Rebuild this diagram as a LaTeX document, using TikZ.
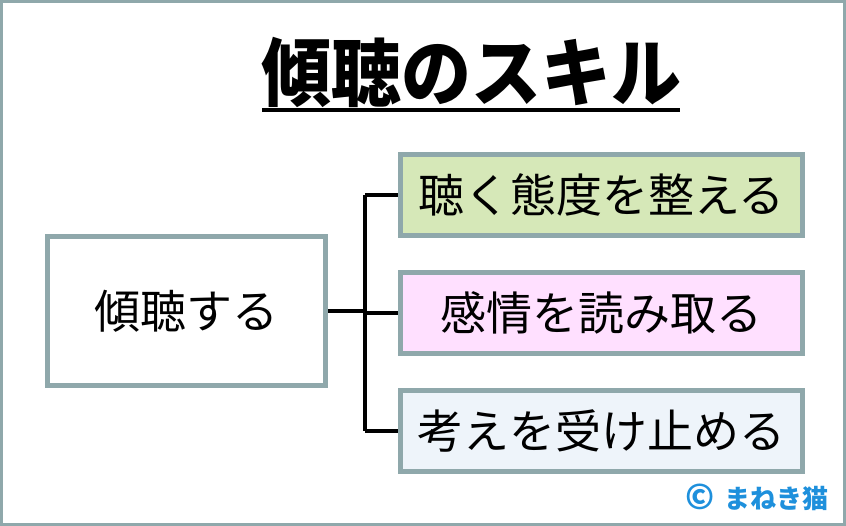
\documentclass[tikz,border=0pt]{standalone}
\usepackage{fontspec}
\setmainfont{Noto Sans CJK JP}
\usetikzlibrary{positioning}
\definecolor{framegray}{RGB}{143,168,171}
\definecolor{leafgreen}{RGB}{214,232,184}
\definecolor{leafpink}{RGB}{255,224,255}
\definecolor{leafblue}{RGB}{238,244,250}
\definecolor{signblue}{RGB}{30,144,220}

\begin{document}
\begin{tikzpicture}[x=1pt, y=-1pt,
    skillbox/.style={rectangle, draw=framegray, line width=5pt, inner sep=0pt,
        font=\fontsize{46}{50}\selectfont},
    leafbox/.style={skillbox, minimum width=402pt, minimum height=81pt},
    branch/.style={line width=3.5pt}]
    \useasboundingbox (0,0) rectangle (846,526);
    \draw[framegray, line width=3pt] (1.5,1.5) rectangle (844.5,524.5);

    % title
    \node[anchor=base, inner sep=0pt, yscale=1.06, font=\fontsize{70}{72}\bfseries\selectfont] (title) at (471,101) {傾聴のスキル};
    \draw[line width=4pt] (262,110) -- (680,110);

    % boxes
    \node[skillbox, fill=white, minimum width=278pt, minimum height=149pt] (root) at (186.5,311) {傾聴する};
    \node[leafbox, fill=leafgreen] (attitude) at (601.5,195) {聴く態度を整える};
    \node[leafbox, fill=leafpink, below=32pt of attitude] (feeling) {感情を読み取る};
    \node[leafbox, fill=leafblue, below=32pt of feeling] (accept) {考えを受け止める};

    % connectors
    \coordinate[right=37pt of root] (fork);
    \draw[branch] (root.east) -- (fork);
    \draw[branch] (fork |- attitude.west) -- (fork |- accept.west);
    \draw[branch] (fork |- attitude.west) -- (attitude.west);
    \draw[branch] (fork |- feeling.west) -- (feeling.west);
    \draw[branch] (fork |- accept.west) -- (accept.west);

    \node[anchor=east, text=signblue, font=\fontsize{26}{28}\bfseries\selectfont] (sign) at (832,497) {{\fontsize{34}{34}\selectfont\raisebox{-1pt}{©}}\hspace{10pt}まねき猫};
\end{tikzpicture}
\end{document}
